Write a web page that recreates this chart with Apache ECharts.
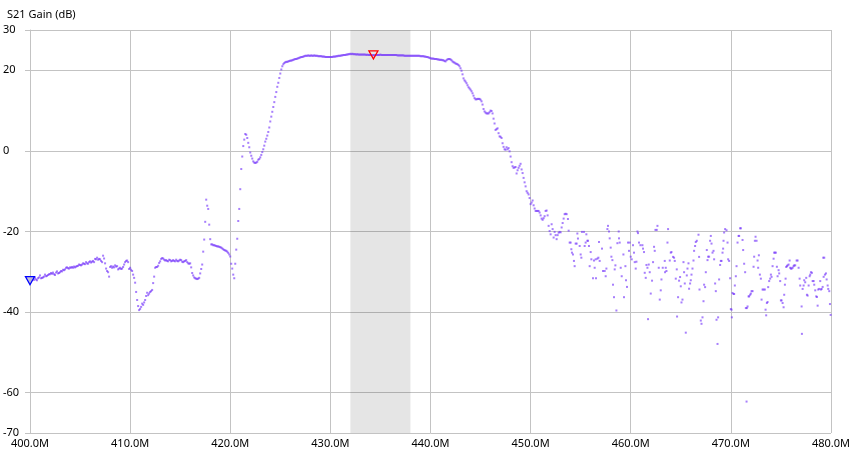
<!DOCTYPE html>
<html>
<head>
<meta charset="utf-8">
<script src="https://cdn.jsdelivr.net/npm/echarts@6/dist/echarts.min.js"></script>
<style>
  html, body { margin: 0; padding: 0; background: #ffffff; }
  #chart { width: 853px; height: 453px; }
</style>
</head>
<body>
<div id="chart"></div>
<script>
// ---- Sweep data (MHz, dB): uniform 0.1 MHz sweep from 400.0 MHz ----
const sweepStartMHz = 400.0;
const sweepStepMHz = 0.1;

const gain400to410 = [
 -32.2,-31.6,-31.9,-31.5,-32.0,-31.5,-31.9,-32.1,-31.6,-31.4,
 -30.9,-31.6,-31.5,-31.4,-31.2,-30.7,-31.1,-31.0,-30.8,-30.6,
 -30.6,-30.3,-30.5,-30.2,-30.6,-30.8,-30.2,-29.9,-30.4,-30.3,
 -30.1,-29.8,-29.9,-29.5,-29.6,-29.4,-29.0,-28.9,-29.1,-29.2,
 -28.9,-29.0,-28.8,-29.0,-28.7,-28.9,-28.7,-28.6,-28.5,-28.2,
 -28.3,-28.4,-28.2,-27.9,-28.0,-28.1,-27.6,-27.9,-28.0,-27.6,
 -27.4,-27.7,-27.5,-27.3,-27.6,-26.8,-26.9,-26.5,-27.0,-26.8,
 -26.9,-27.3,-27.6,-26.0,-26.7,-27.9,-29.2,-29.8,-30.1,-31.2,
 -28.8,-28.6,-29.0,-28.7,-28.9,-28.4,-28.7,-28.6,-29.4,-29.2,
 -29.0,-29.3,-29.2,-28.8,-28.2,-27.6,-27.3,-27.2,-27.6,-29.3
];
const gain410to420 = [
 -29.0,-29.5,-29.8,-30.7,-31.5,-32.7,-35.0,-37.0,-38.5,-39.5,
 -39.2,-38.7,-37.9,-38.2,-37.6,-37.0,-36.0,-35.2,-35.8,-35.4,
 -35.0,-34.8,-34.5,-32.8,-31.2,-29.0,-28.8,-28.8,-28.5,-27.8,
 -27.4,-26.8,-26.6,-26.7,-27.0,-27.2,-27.1,-27.3,-27.4,-27.0,
 -27.1,-27.4,-27.3,-27.1,-27.3,-27.4,-27.0,-27.3,-27.4,-27.2,
 -27.0,-27.1,-27.5,-27.6,-27.4,-27.3,-27.1,-27.6,-27.9,-28.0,
 -27.9,-28.9,-30.3,-30.9,-31.4,-31.6,-31.7,-31.8,-31.7,-31.5,
 -30.4,-29.3,-28.2,-25.0,-22.0,-17.6,-12.1,-13.6,-14.4,-18.3,
 -21.9,-23.2,-23.2,-23.4,-23.4,-23.5,-23.6,-23.7,-23.7,-23.8,
 -23.9,-24.0,-24.2,-24.4,-24.6,-24.7,-24.8,-25.0,-25.3,-25.7
];
const gain420to430 = [
 -26.2,-28.0,-29.2,-30.7,-31.6,-28.0,-24.5,-21.8,-17.4,-14.4,
 -9.5,-4.5,-1.4,1.2,2.8,4.2,4.0,3.2,2.0,0.9,
 -0.4,-1.2,-1.9,-2.6,-2.9,-3.0,-2.9,-2.7,-2.2,-2.0,
 -1.6,-1.0,-0.3,0.4,1.3,2.3,3.0,3.8,4.7,5.8,
 7.3,8.5,9.7,10.9,12.1,13.4,14.6,15.9,16.9,18.1,
 19.2,20.2,21.0,21.5,21.8,22.0,22.1,22.1,22.2,22.3,
 22.4,22.4,22.5,22.6,22.7,22.8,22.8,22.9,23.0,23.1,
 23.2,23.3,23.3,23.4,23.5,23.6,23.6,23.6,23.7,23.6,
 23.6,23.7,23.6,23.6,23.7,23.6,23.6,23.6,23.5,23.5,
 23.5,23.5,23.4,23.4,23.4,23.3,23.3,23.3,23.3,23.3
];
const gain430to440 = [
 23.3,23.3,23.3,23.4,23.4,23.4,23.5,23.5,23.6,23.6,
 23.6,23.7,23.7,23.8,23.8,23.8,23.9,23.9,24.0,24.0,
 24.1,24.0,24.1,24.0,24.0,24.0,23.9,24.0,23.9,23.9,
 23.9,23.9,23.9,23.9,23.9,23.9,23.8,23.9,23.8,23.8,
 23.8,23.8,23.7,23.8,23.7,23.8,23.8,23.8,23.8,23.8,
 23.9,23.8,23.8,23.8,23.8,23.8,23.8,23.8,23.8,23.8,
 23.8,23.8,23.8,23.8,23.8,23.8,23.8,23.7,23.7,23.7,
 23.7,23.7,23.7,23.7,23.6,23.6,23.6,23.6,23.6,23.6,
 23.6,23.6,23.6,23.6,23.6,23.6,23.6,23.6,23.6,23.6,
 23.5,23.5,23.5,23.5,23.4,23.4,23.3,23.3,23.2,23.1
];
const gain440to450 = [
 23.0,22.9,22.9,22.9,22.8,22.8,22.8,22.7,22.7,22.6,
 22.6,22.6,22.5,22.5,22.3,22.2,22.5,22.7,22.8,22.8,
 22.7,22.5,22.2,22.0,21.9,21.7,21.6,21.5,21.3,21.0,
 20.5,19.9,19.0,18.0,17.5,17.2,16.8,16.3,15.8,15.5,
 15.2,14.8,14.3,13.7,13.1,12.8,12.8,12.9,12.9,12.9,
 12.7,12.3,11.5,10.4,9.8,9.5,9.3,9.3,9.3,9.6,
 10.0,9.9,9.3,8.0,6.8,5.2,5.4,5.6,4.4,3.6,
 3.5,3.2,1.9,1.0,0.4,0.3,0.9,0.4,0.7,-0.1,
 -1.4,-2.8,-3.8,-4.2,-4.1,-4.0,-5.6,-4.8,-4.2,-3.7,
 -3.2,-4.6,-5.5,-6.7,-7.8,-8.8,-10.0,-10.4,-10.8,-11.7
];
const gain450to4536 = [
 -13.2,-12.8,-12.3,-13.5,-14.3,-14.9,-14.9,-14.9,-14.9,-15.3,
 -16.0,-16.8,-17.1,-16.7,-16.2,-14.9,-14.8,-16.0,-18.6,-19.9,
 -20.7,-18.2,-19.4,-21.5,-20.1,-20.9,-21.9,-20.9,-20.3,-20.1,
 -20.2,-19.0,-17.9,-16.8,-15.7,-15.6,-15.7
];

// ---- Noise floor region above 453.6 MHz, read point by point (MHz, dB) ----
const noiseFreqMHz = [
 453.73,453.80,453.90,454.00,454.07,454.13,454.23,454.33,454.40,454.50,
 454.60,454.67,454.73,454.90,455.00,455.07,455.13,455.33,455.40,455.50,
 455.57,455.67,455.73,455.83,455.90,456.00,456.07,456.23,456.33,456.40,
 456.50,456.53,456.67,456.77,456.83,456.90,457.13,457.23,457.40,457.50,
 457.57,457.67,457.73,457.83,457.90,458.00,458.07,458.17,458.23,458.33,
 458.40,458.47,458.57,458.67,458.80,458.83,458.90,459.00,459.10,459.27,
 459.33,459.47,459.53,459.63,459.73,459.83,459.90,460.00,460.10,460.23,
 460.33,460.40,460.50,460.57,460.67,460.73,460.83,460.97,461.17,461.23,
 461.33,461.40,461.50,461.57,461.67,461.73,461.80,461.90,462.00,462.13,
 462.23,462.33,462.40,462.47,462.60,462.67,462.80,462.90,463.00,463.07,
 463.20,463.40,463.43,463.50,463.57,463.67,463.73,463.90,464.00,464.07,
 464.23,464.33,464.40,464.50,464.60,464.63,
 464.73,464.83,464.93,465.00,465.07,465.17,465.27,465.33,465.40,465.50,
 465.60,465.67,465.77,465.83,465.93,466.00,466.07,466.17,466.27,466.33,
 466.43,466.50,466.60,466.77,466.83,466.87,467.00,467.07,467.17,467.27,
 467.33,467.43,467.50,467.60,467.67,467.73,467.83,467.93,468.00,468.07,
 468.17,468.27,468.33,468.43,468.50,468.57,468.67,468.73,468.83,468.93,
 469.00,469.07,469.17,469.23,469.27,469.33,469.43,469.57,469.67,469.73,
 469.83,469.93,470.00,470.07,470.10,470.17,470.27,470.33,470.40,470.50,
 470.57,470.67,470.77,470.83,470.93,471.00,471.17,471.23,471.33,471.43,
 471.50,471.57,471.60,471.67,471.77,471.83,471.93,472.00,472.07,472.17,
 472.27,472.33,472.40,472.47,472.57,472.67,472.73,472.80,472.90,473.00,
 473.07,473.17,473.27,473.40,473.47,473.53,473.60,473.67,473.73,473.83,
 473.93,474.00,474.07,474.17,474.27,474.33,474.40,474.50,474.60,474.67,
 474.77,474.83,474.93,475.00,475.07,475.17,475.27,475.33,475.40,475.47,
 475.53,475.60,475.67,475.77,475.87,475.93,476.00,476.07,476.17,476.27,
 476.33,476.43,476.57,476.67,476.77,476.87,476.93,477.07,477.10,477.17,
 477.27,477.33,477.43,477.53,477.60,477.67,477.77,477.87,477.93,478.00,
 478.10,478.17,478.27,478.33,478.43,478.53,478.60,478.67,478.73,478.83,
 478.93,479.00,479.07,479.17,479.23,479.27,479.33,479.40,479.50,479.57,
 479.67,479.73,479.83,479.90,479.97
];
const noiseGainDb = [
 -16.9,-19.8,-22.75,-22.75,-24.4,-25.25,-25.7,-27.3,-28.6,-23.0,
 -23.0,-20.5,-21.75,-23.6,-25.7,-26.5,-20.1,-20.1,-23.6,-22.75,
 -20.7,-22.3,-22.3,-23.6,-28.6,-25.1,-26.9,-31.6,-27.2,-29.0,
 -26.9,-31.6,-26.75,-26.5,-22.6,-27.3,-24.25,-29.8,-29.8,-31.1,
 -29.2,-19.4,-18.6,-20.0,-21.7,-24.0,-26.25,-27.1,-33.2,-36.3,
 -29.4,-28.4,-39.6,-22.9,-20.0,-21.7,-22.75,-29.0,-31.1,-25.7,
 -36.3,-28.6,-32.1,-33.75,-22.75,-24.8,-22.75,-26.25,-26.9,-23.4,
 -25.25,-27.6,-29.2,-27.5,-20.0,-20.4,-22.75,-23.4,-23.4,-24.25,
 -25.1,-30.25,-31.5,-28.3,-29.0,-41.75,-28.2,-30.1,-35.4,-32.2,
 -27.6,-23.8,-24.8,-19.6,-19.6,-18.6,-29.0,-36.9,-34.6,-31.9,
 -29.0,-27.3,-30.1,-29.0,-29.8,-22.75,-19.4,-27.2,-25.25,-25.1,
 -26.3,-26.5,-27.3,-31.7,-29.4,-41.1,
 -36.3,-32.2,-31.3,-33.6,-37.6,-36.9,-27.6,-30.1,-32.9,-45.1,
 -30.9,-29.2,-27.9,-34.2,-32.9,-32.1,-30.7,-29.2,-27.2,-24.8,
 -23.6,-22.6,-22.3,-20.8,-26.3,-34.4,-42.1,-42.9,-41.3,-37.3,
 -33.2,-33.8,-30.1,-24.6,-27.1,-26.25,-26.25,-22.3,-21.1,-23.0,
 -25.25,-24.8,-26.9,-32.9,-34.8,-41.9,-47.9,-41.3,-31.9,-28.3,
 -27.3,-27.3,-25.25,-24.25,-22.3,-20.25,-19.4,-19.7,-22.75,-26.9,
 -27.3,-31.6,-39.25,-39.4,-41.3,-35.25,-35.5,-35.5,-33.4,-31.1,
 -28.6,-22.75,-21.1,-21.1,-19.2,-19.2,-22.1,-24.6,-28.0,-30.1,
 -39.0,-62.2,-39.0,-38.6,-36.1,-36.1,-35.7,-35.4,-34.8,-34.8,
 -28.75,-26.25,-22.3,-21.3,-22.3,-27.2,-29.0,-25.9,-30.7,-31.7,
 -36.9,-34.4,-34.4,-34.4,-39.4,-40.8,-37.75,-37.5,-33.8,-32.3,
 -31.7,-30.7,-31.25,-28.6,-26.75,-25.25,-25.25,-25.25,-28.75,-31.1,
 -29.6,-30.4,-32.3,-37.1,-37.1,-37.75,-38.8,-35.7,-33.2,-31.7,
 -28.8,-28.6,-28.4,-28.2,-27.2,-29.0,-29.2,-29.2,-29.0,-28.6,
 -28.4,-28.4,-27.2,-27.2,-29.0,-31.7,-33.4,-38.6,-45.4,-34.25,
 -33.4,-32.1,-32.6,-31.5,-35.7,-35.9,-33.4,-31.1,-30.7,-30.1,
 -30.25,-32.3,-32.3,-33.2,-34.6,-36.1,-36.25,-38.4,-34.4,-34.25,
 -32.3,-34.4,-34.25,-33.75,-26.5,-31.25,-26.5,-30.7,-30.4,-31.9,
 -33.4,-34.25,-34.8,-38.0,-40.7
];

// ---- Axes, band and markers ----
const xMinMHz = 400, xMaxMHz = 480, xStepMHz = 10;
const yMinDb = -70, yMaxDb = 30;
const yTickValues = [30, 20, 0, -20, -40, -60, -70];
const bandMHz = [432, 438];
const markerFreqsMHz = [400.0, 434.3];
const yTitle = 'S21 Gain (dB)';

// ---- Build data ----
const sweepGain = [].concat(gain400to410, gain410to420, gain420to430,
  gain430to440, gain440to450, gain450to4536);
const points = sweepGain.map((g, i) =>
  [+(sweepStartMHz + i * sweepStepMHz).toFixed(1), g]);
for (let k = 0; k < noiseFreqMHz.length; k++) {
  points.push([noiseFreqMHz[k], noiseGainDb[k]]);
}
function valueAt(f) {
  let best = points[0];
  for (const p of points) if (Math.abs(p[0] - f) < Math.abs(best[0] - f)) best = p;
  return best;
}
const m1 = valueAt(markerFreqsMHz[0]);
const m2 = valueAt(markerFreqsMHz[1]);

const FONT = "'Noto Sans', 'DejaVu Sans', sans-serif";
const GRID = '#c3c3c3';
const tri = 'path://M0,0 L10,0 L5,9 Z';

const chart = echarts.init(document.getElementById('chart'), null, { renderer: 'canvas' });
chart.setOption({
  animation: false,
  backgroundColor: '#ffffff',
  title: {
    text: yTitle, left: 2, top: 4,
    textStyle: { fontSize: 11, fontWeight: 'normal', color: '#000', fontFamily: FONT }
  },
  grid: { left: 30, right: 20, top: 30, bottom: 20, containLabel: false },
  xAxis: {
    type: 'value', min: xMinMHz, max: xMaxMHz, interval: xStepMHz,
    axisLine: { show: true, lineStyle: { color: GRID } },
    axisTick: { show: true, length: 4, lineStyle: { color: GRID } },
    splitLine: { show: true, lineStyle: { color: GRID, width: 1 } },
    axisLabel: {
      formatter: v => v.toFixed(1) + 'M', color: '#000', fontSize: 11,
      fontFamily: FONT, margin: 5
    }
  },
  yAxis: {
    type: 'value', min: yMinDb, max: yMaxDb,
    axisLine: { show: true, lineStyle: { color: GRID } },
    axisTick: { show: true, length: 5, customValues: yTickValues, lineStyle: { color: GRID } },
    splitLine: { show: true, lineStyle: { color: GRID, width: 1 } },
    axisLabel: {
      customValues: yTickValues, align: 'left', margin: 27,
      color: '#000', fontSize: 11, fontFamily: FONT
    }
  },
  series: [{
    type: 'scatter',
    data: points,
    symbol: 'rect',
    symbolSize: 2,
    silent: true,
    itemStyle: { color: 'rgba(118,55,250,0.8)' },
    markArea: {
      silent: true,
      itemStyle: { color: 'rgba(0,0,0,0.1)' },
      data: [[{ xAxis: bandMHz[0] }, { xAxis: bandMHz[1] }]]
    },
    markPoint: {
      silent: true,
      symbol: tri,
      symbolSize: [9, 8],
      label: { show: false },
      data: [
        { coord: m1, itemStyle: { color: 'rgba(190,190,210,0.9)', borderColor: '#0000ff', borderWidth: 1.3 } },
        { coord: m2, itemStyle: { color: 'rgba(255,255,255,0)', borderColor: '#ff0000', borderWidth: 1.3 } }
      ]
    }
  }]
});
</script>
</body>
</html>
